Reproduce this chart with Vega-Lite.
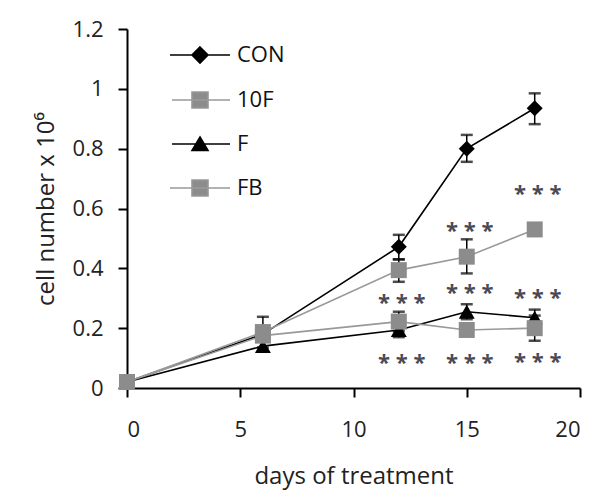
{
  "$schema": "https://vega.github.io/schema/vega-lite/v6.json",
  "width": 453,
  "height": 359,
  "autosize": "none",
  "padding": {"left": 127, "top": 29, "right": 17, "bottom": 105},
  "background": "white",
  "config": {
    "view": {"stroke": null},
    "font": "Open Sans",
    "axis": {
      "grid": false,
      "domainColor": "#000",
      "domainWidth": 2,
      "tickColor": "#000",
      "tickWidth": 2,
      "tickSize": 9,
      "labelFont": "Open Sans",
      "labelFontSize": 22,
      "labelColor": "#222",
      "titleFont": "Open Sans",
      "titleFontSize": 24,
      "titleFontWeight": "normal",
      "titleColor": "#222"
    }
  },
  "datasets": {
    "series": [
      {"s": "CON", "day": 0, "v": 0.02},
      {"s": "CON", "day": 6, "v": 0.18},
      {"s": "CON", "day": 12, "v": 0.472, "lo": 0.43, "hi": 0.512},
      {"s": "CON", "day": 15, "v": 0.80, "lo": 0.756, "hi": 0.846},
      {"s": "CON", "day": 18, "v": 0.935, "lo": 0.882, "hi": 0.985},
      {"s": "10F", "day": 0, "v": 0.02},
      {"s": "10F", "day": 6, "v": 0.187, "lo": 0.135, "hi": 0.238},
      {"s": "10F", "day": 12, "v": 0.394, "lo": 0.355, "hi": 0.43},
      {"s": "10F", "day": 15, "v": 0.439, "lo": 0.383, "hi": 0.497},
      {"s": "10F", "day": 18, "v": 0.53},
      {"s": "F", "day": 0, "v": 0.02},
      {"s": "F", "day": 6, "v": 0.14},
      {"s": "F", "day": 12, "v": 0.194, "lo": 0.17, "hi": 0.215},
      {"s": "F", "day": 15, "v": 0.255, "lo": 0.23, "hi": 0.28},
      {"s": "F", "day": 18, "v": 0.235, "lo": 0.21, "hi": 0.262},
      {"s": "FB", "day": 0, "v": 0.02},
      {"s": "FB", "day": 6, "v": 0.175},
      {"s": "FB", "day": 12, "v": 0.222, "lo": 0.19, "hi": 0.255},
      {"s": "FB", "day": 15, "v": 0.194},
      {"s": "FB", "day": 18, "v": 0.2, "lo": 0.158, "hi": 0.242}
    ],
    "stars": [
      {"day": 18, "v": 0.665, "t": "* * *"},
      {"day": 15, "v": 0.54, "t": "* * *"},
      {"day": 15, "v": 0.335, "t": "* * *"},
      {"day": 18, "v": 0.318, "t": "* * *"},
      {"day": 12, "v": 0.30, "t": "* * *"},
      {"day": 12, "v": 0.10, "t": "* * *"},
      {"day": 15, "v": 0.10, "t": "* * *"},
      {"day": 18, "v": 0.105, "t": "* * *"}
    ]
  },
  "encoding": {
    "x": {
      "field": "day",
      "type": "quantitative",
      "scale": {"domain": [0, 20], "nice": false, "zero": false},
      "axis": {
        "values": [0, 5, 10, 15, 20],
        "title": "days of treatment",
        "labelPadding": 22,
        "titlePadding": 24
      }
    },
    "y": {
      "field": "v",
      "type": "quantitative",
      "scale": {"domain": [0, 1.2], "nice": false},
      "axis": {
        "values": [0, 0.2, 0.4, 0.6, 0.8, 1, 1.2],
        "format": "~g",
        "title": "cell number x 10⁶",
        "labelPadding": 15,
        "titlePadding": 14
      }
    }
  },
  "layer": [
    {
      "data": {"name": "series"},
      "transform": [{"filter": "datum.day < 0"}],
      "mark": {"type": "point", "filled": true, "opacity": 1, "fillOpacity": 1, "strokeWidth": 1.6},
      "encoding": {
        "fill": {
          "field": "s",
          "type": "nominal",
          "scale": {"domain": ["CON", "10F", "F", "FB"], "range": ["#000000", "#8c8c8c", "#000000", "#8c8c8c"]},
          "legend": {
            "title": null,
            "orient": "none",
            "legendX": 62,
            "legendY": 15,
            "padding": 0,
            "rowPadding": 21,
            "symbolSize": 400,
            "symbolOpacity": 1,
            "symbolStrokeWidth": 1.6,
            "labelFont": "Open Sans",
            "labelFontSize": 22,
            "labelColor": "#111",
            "labelOffset": 26
          }
        },
        "stroke": {
          "field": "s",
          "type": "nominal",
          "scale": {"domain": ["CON", "10F", "F", "FB"], "range": ["#000000", "#999999", "#000000", "#999999"]}
        },
        "shape": {
          "field": "s",
          "type": "nominal",
          "scale": {
            "domain": ["CON", "10F", "F", "FB"],
            "range": [
              "M-3,0H3M0,-0.8L0.8,0L0,0.8L-0.8,0Z",
              "M-2.8,0H3M-0.8,-0.8H0.8V0.8H-0.8Z",
              "M-2.8,0H3M0,-0.7L0.8,0.65H-0.8Z",
              "M-3,0H3M-0.8,-0.8H0.8V0.8H-0.8Z"
            ]
          }
        }
      }
    },
    {
      "data": {"name": "series"},
      "mark": {"type": "line", "strokeWidth": 1.6},
      "encoding": {
        "stroke": {
          "field": "s",
          "type": "nominal",
          "scale": {"domain": ["CON", "F", "10F", "FB"], "range": ["#000000", "#000000", "#999999", "#999999"]},
          "legend": null
        }
      }
    },
    {
      "data": {"name": "series"},
      "mark": {"type": "errorbar", "color": "#000", "thickness": 1.5, "ticks": {"size": 12, "thickness": 2.5}},
      "encoding": {
        "y": {"field": "lo", "type": "quantitative"},
        "y2": {"field": "hi"},
        "detail": {"field": "s"}
      }
    },
    {
      "data": {"name": "series"},
      "mark": {"type": "point", "filled": true, "opacity": 1, "strokeWidth": 0, "size": 256},
      "encoding": {
        "fill": {
          "field": "s",
          "type": "nominal",
          "scale": {"domain": ["CON", "F", "10F", "FB"], "range": ["#000000", "#000000", "#8c8c8c", "#8c8c8c"]},
          "legend": null
        },
        "shape": {
          "field": "s",
          "type": "nominal",
          "scale": {"domain": ["CON", "F", "10F", "FB"], "range": ["diamond", "triangle-up", "square", "square"]},
          "legend": null
        }
      }
    },
    {
      "data": {"name": "stars"},
      "mark": {"type": "text", "font": "Open Sans", "fontSize": 22, "fontWeight": "bold", "color": "#4a4a55", "baseline": "middle", "dy": 5, "dx": 3},
      "encoding": {
        "text": {"field": "t"}
      }
    }
  ],
  "resolve": {
    "scale": {"fill": "independent", "stroke": "independent", "shape": "independent"},
    "legend": {"fill": "independent", "stroke": "independent", "shape": "independent"}
  }
}
